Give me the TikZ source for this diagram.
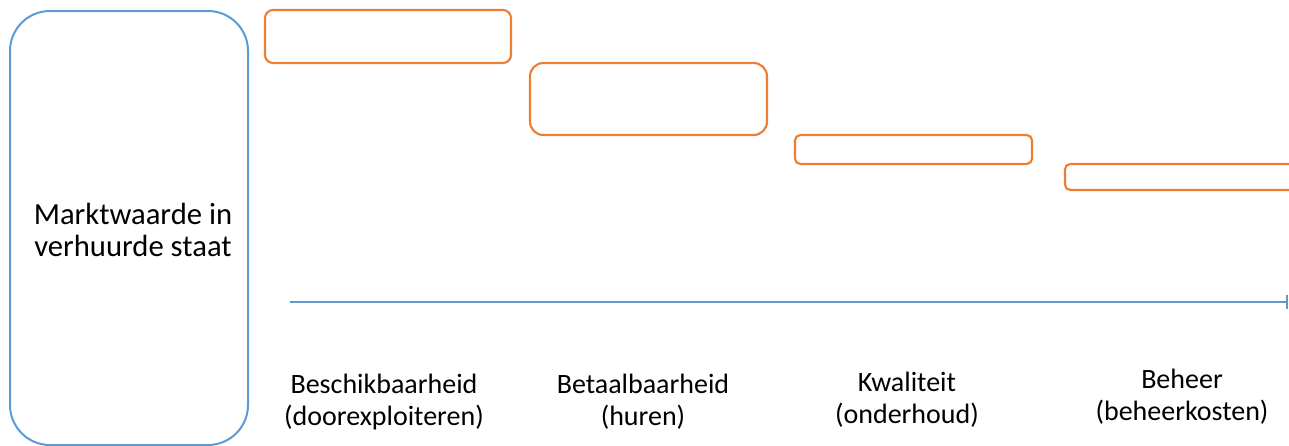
\documentclass[tikz,border=0pt]{standalone}
\usepackage{fontspec}
\setmainfont{Carlito}
\usetikzlibrary{arrows.meta}
\definecolor{ofblue}{HTML}{5B9BD5}
\definecolor{oforange}{HTML}{ED7D31}
\begin{document}
\begin{tikzpicture}[x=0.75pt,y=-0.75pt,
		valuebox/.style={draw=ofblue,line width=1.5pt,rounded corners=30pt,inner sep=0pt},
		factorbox/.style={draw=oforange,line width=1.6pt,inner sep=0pt},
		factorlabel/.style={align=center,inner sep=0pt,font=\fontsize{21}{24}\selectfont}]
			\useasboundingbox (0,0) rectangle (1289,446);
			\clip (0,0) rectangle (1289,446);
			\node[valuebox, minimum width=238*0.75pt, minimum height=434*0.75pt] (value) at (129,228) {};
			\node[inner sep=0pt,align=center,font=\fontsize{23}{24}\selectfont] (valuetext) at (133,230) {Marktwaarde in\\verhuurde staat};
			\node[factorbox, rounded corners=6pt, minimum width=246*0.75pt, minimum height=53*0.75pt] (avail) at (388,36.5) {};
			\node[factorbox, rounded corners=10pt, minimum width=237*0.75pt, minimum height=72*0.75pt] (afford) at (648.5,99) {};
			\node[factorbox, rounded corners=4pt, minimum width=237*0.75pt, minimum height=29*0.75pt] (quality) at (913.5,149.5) {};
			\node[factorbox, rounded corners=4pt, minimum width=237*0.75pt, minimum height=26*0.75pt] (manage) at (1183.5,177) {};
			\coordinate (axstart) at (290,302);
			\coordinate (axend) at (1288,302);
			\draw [draw=ofblue, line width=0.9pt, -{Bar[width=10pt,line width=1.2pt]}] (axstart) to (axend);
			\node[factorlabel] (availtext) at (384,402) {Beschikbaarheid\\(doorexploiteren)};
			\node[factorlabel] (affordtext) at (643,402) {Betaalbaarheid\\(huren)};
			\node[factorlabel] (qualitytext) at (907,400) {Kwaliteit\\(onderhoud)};
			\node[factorlabel] (managetext) at (1182,397) {Beheer\\(beheerkosten)};
		\end{tikzpicture}
\end{document}
